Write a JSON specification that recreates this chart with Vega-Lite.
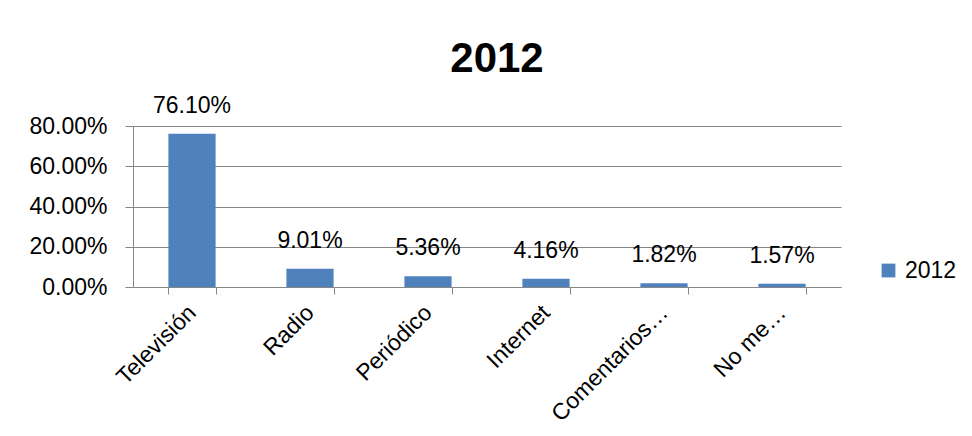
{
  "$schema": "https://vega.github.io/schema/vega-lite/v6.json",
  "width": 708,
  "height": 161,
  "autosize": {"type": "none"},
  "padding": {"left": 133, "top": 126, "right": 131, "bottom": 149},
  "background": "white",
  "title": {"text": "2012", "fontSize": 42, "fontWeight": "bold", "font": "Liberation Sans", "color": "black", "anchor": "middle", "frame": "group", "dx": 10, "offset": 14},
  "config": {
    "view": {"stroke": null},
    "font": "Liberation Sans"
  },
  "data": {"values": [
    {"medio": "Televisión", "valor": 0.761},
    {"medio": "Radio", "valor": 0.0901},
    {"medio": "Periódico", "valor": 0.0536},
    {"medio": "Internet", "valor": 0.0416},
    {"medio": "Comentarios…", "valor": 0.0182},
    {"medio": "No me…", "valor": 0.0157}
  ]},
  "encoding": {
    "x": {"field": "medio", "type": "nominal", "sort": null,
      "scale": {"paddingInner": 0.6, "paddingOuter": 0.3},
      "axis": {"title": null, "labelAngle": -45, "labelFontSize": 23, "labelColor": "black", "labelFont": "Liberation Sans",
        "tickBand": "extent", "tickSize": 7, "tickColor": "#868686", "domainColor": "#868686", "labelPadding": 7, "labelOffset": -8, "grid": false}},
    "y": {"field": "valor", "type": "quantitative",
      "scale": {"domain": [0, 0.8], "nice": false},
      "axis": {"title": null, "format": ".2%", "values": [0, 0.2, 0.4, 0.6, 0.8], "labelFontSize": 23, "labelColor": "black", "labelFont": "Liberation Sans",
        "tickSize": 8, "tickColor": "#868686", "domainColor": "#868686", "gridColor": "#868686", "labelPadding": 18}}
  },
  "layer": [
    {"mark": {"type": "bar"},
     "encoding": {"color": {"datum": "2012", "type": "nominal", "scale": {"range": ["#4F81BD"]},
       "legend": {"title": null, "orient": "none", "legendX": 744, "legendY": 133, "symbolType": "square", "symbolSize": 190, "symbolStrokeWidth": 0, "symbolOpacity": 1, "labelFontSize": 23, "labelColor": "black", "labelFont": "Liberation Sans", "labelOffset": 5}}}},
    {"mark": {"type": "text", "dy": -21, "baseline": "alphabetic", "fontSize": 23, "font": "Liberation Sans", "color": "black"},
     "encoding": {"text": {"field": "valor", "type": "quantitative", "format": ".2%"}}}
  ]
}
